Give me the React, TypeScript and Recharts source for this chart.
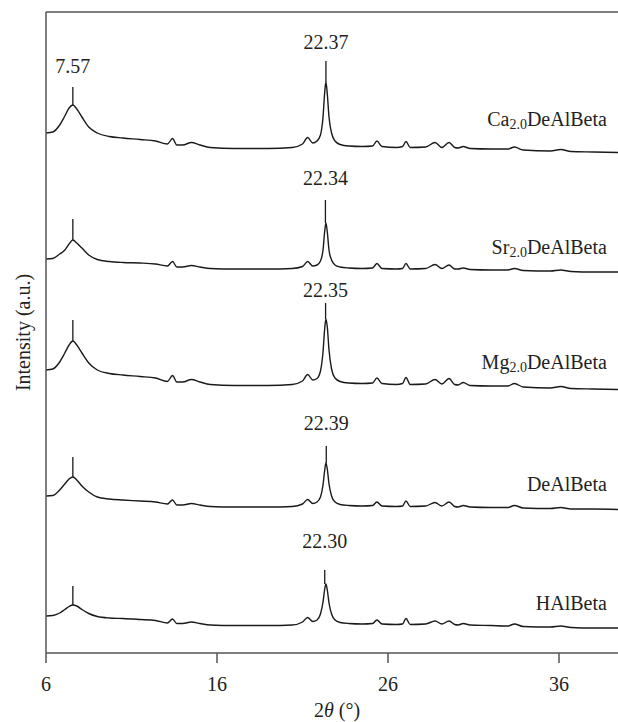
import React from 'react';
import { LineChart, Line, XAxis, YAxis, ReferenceLine, ReferenceDot } from 'recharts';

// 2θ sampling points (degrees)
const twoTheta = [
  6.0, 6.4, 6.8, 7.1, 7.35, 7.57, 7.8, 8.1, 8.5, 9.0,
  9.7, 10.5, 11.5, 12.4, 13.1, 13.4, 13.65, 14.0, 14.5, 15.0,
  15.6, 17.0, 19.0, 20.4, 21.0, 21.3, 21.6, 21.85, 22.05, 22.2,
  22.3, 22.37, 22.45, 22.55, 22.7, 22.9, 23.2, 23.7, 24.5, 25.1,
  25.35, 25.65, 26.5, 26.85, 27.05, 27.3, 28.2, 28.75, 29.15, 29.57,
  29.9, 30.1, 30.4, 30.8, 32.0, 33.0, 33.4, 33.9, 35.5, 36.1,
  36.7, 38.0, 39.5,
];

// stacked intensities (a.u.), top to bottom
const caBeta = [
  520, 521, 528, 537, 545, 548, 544, 536, 526, 520,
  516.5, 515, 513.5, 512, 509, 514.5, 508, 508, 510.5, 508,
  505.5, 504.5, 504.5, 505.5, 509, 515.5, 510, 512, 518, 536,
  561, 571, 559, 536, 520, 512, 508.5, 507, 506.5, 507,
  512, 506.5, 505.5, 506.5, 511.5, 505.5, 506, 510.5, 505.5, 510.5,
  505.5, 505, 506.5, 504.5, 504, 504, 506, 503, 502, 503.5,
  501.5, 501, 500.5,
];
const srBeta = [
  394, 394.5, 399, 403, 409, 413, 410, 405, 398, 393.5,
  391.5, 390.5, 390, 389, 387, 391.5, 386, 386, 387.5, 386,
  384.5, 384, 384, 384.5, 386.5, 391.5, 387, 388, 392, 403,
  422, 430, 421, 403, 393, 388, 386, 385, 384.5, 385,
  389.5, 384.5, 384, 384.5, 389.5, 384, 384.5, 388.5, 384.5, 388,
  384, 384, 385, 383.5, 383, 383, 384.5, 382.5, 382, 383,
  381.5, 381, 381,
];
const mgBeta = [
  283, 284, 291, 300, 308, 312, 308, 300, 290, 283,
  279.5, 278, 276.5, 275, 271.5, 277.5, 271, 271, 273.5, 271,
  268.5, 267.5, 267.5, 268.5, 272, 278.5, 273, 274.5, 282, 301,
  325, 334, 326, 303, 284, 275, 271.5, 270, 269.5, 270,
  275, 269.5, 268.5, 269.5, 275.5, 268.5, 269, 273.5, 269, 274.5,
  268.5, 268, 270.5, 267.5, 267, 267, 269.5, 266, 265, 266.5,
  264.5, 264, 263.5,
];
const deAlBeta = [
  157, 157.5, 163, 169, 174, 176, 173, 167, 161, 156,
  154, 153, 152, 151, 149, 153, 148, 148, 149.5, 148,
  146.5, 146, 146, 146.5, 149, 153.5, 149.5, 151, 156, 168,
  183, 190, 184, 169, 157, 151, 148.5, 147.5, 147, 147.5,
  151, 147, 146.5, 147, 152, 146.5, 147, 150.5, 147, 151,
  146.5, 146, 147.5, 146, 145.5, 145.5, 147.5, 145, 144.5, 145.5,
  144, 144, 143.5,
];
const hAlBeta = [
  37, 37.5, 40, 43.5, 46.5, 48, 47, 43.5, 39.5, 36.5,
  35, 34.5, 33.5, 32.5, 30, 34, 29.5, 29.5, 31, 29.5,
  28, 27.5, 27.5, 28, 31, 35.5, 31.5, 33, 39, 51,
  64, 69, 63, 50, 39, 33, 30.5, 29.5, 29, 29.5,
  33, 29, 28.5, 29, 34.5, 28.5, 29, 32, 29, 32,
  28.5, 28, 29.5, 28, 27.5, 27, 29, 26.5, 26, 27,
  25.5, 25, 25,
];

const seriesKeys = ['ca', 'sr', 'mg', 'deal', 'hal'];
const seriesValues = [caBeta, srBeta, mgBeta, deAlBeta, hAlBeta];

// sample names (prefix, subscript, rest)
const namePrefix = ['Ca', 'Sr', 'Mg', '', ''];
const nameSub = ['2.0', '2.0', '2.0', '', ''];
const nameRest = ['DeAlBeta', 'DeAlBeta', 'DeAlBeta', 'DeAlBeta', 'HAlBeta'];
const nameLevel = [534, 406, 291, 169, 50];

// peak markers
const lowPeak = 7.57;
const lowMarkerTop = [566, 434, 333, 196, 67];
const lowLabelLevel = 587;
const mainPeaks = [22.37, 22.34, 22.35, 22.39, 22.3];
const mainPeakText = ['22.37', '22.34', '22.35', '22.39', '22.30'];
const mainMarkerTop = [592, 453, 350, 207, 83];
const mainLabelLevel = [611, 475, 363, 230, 112];

const xTicks = [6, 16, 26, 36];

const FONT = '"Liberation Serif", "DejaVu Serif", serif';
const TEXT = '#231f20';
const AXIS = '#555555';
const TRACE = '#1a1a1a';
const NAME_X = 38.8;

const data = twoTheta.map((t, i) => {
  const row: any = { t };
  seriesKeys.forEach((k, s) => (row[k] = seriesValues[s][i]));
  return row;
});

const lowIdx = twoTheta.indexOf(lowPeak);
const mainIdx = twoTheta.indexOf(22.37);

const textShape = (value: string, anchor: string = 'middle') => (p: any) => (
  <text
    x={p.cx}
    y={p.cy}
    textAnchor={anchor}
    dominantBaseline="central"
    fontFamily={FONT}
    fontSize={20}
    fill={TEXT}
  >
    {value}
  </text>
);

const nameShape = (i: number) => (p: any) => (
  <text x={p.cx} y={p.cy} textAnchor="end" dominantBaseline="central" fontFamily={FONT} fontSize={20} fill={TEXT}>
    {namePrefix[i]}
    {nameSub[i] && (
      <tspan fontSize={14} dy={5}>
        {nameSub[i]}
      </tspan>
    )}
    <tspan dy={nameSub[i] ? -5 : 0}>{nameRest[i]}</tspan>
  </text>
);

export default function App() {
  return (
    <div style={{ position: 'absolute', left: 0, top: 0, background: '#fff' }}>
      <LineChart width={618} height={722} data={data} margin={{ top: 12, right: 0, bottom: 0, left: 0 }}>
        <XAxis
          dataKey="t"
          type="number"
          domain={[6, 39.45]}
          ticks={xTicks}
          allowDataOverflow
          height={69}
          tickSize={10}
          tickMargin={14}
          axisLine={{ stroke: AXIS, strokeWidth: 1.5 }}
          tickLine={{ stroke: AXIS, strokeWidth: 1.5 }}
          tick={{ fontFamily: FONT, fontSize: 20, fill: TEXT }}
          label={(p: any) => (
            <text
              x={p.viewBox.x + p.viewBox.width / 2 + 5}
              y={p.viewBox.y + 64}
              textAnchor="middle"
              fontFamily={FONT}
              fontSize={20}
              fill={TEXT}
            >
              2<tspan fontStyle="italic">θ</tspan> (°)
            </text>
          )}
        />
        <YAxis
          type="number"
          domain={[0, 641]}
          allowDataOverflow
          width={46}
          tick={false}
          tickLine={false}
          axisLine={{ stroke: AXIS, strokeWidth: 1.5 }}
          label={{
            value: 'Intensity (a.u.)',
            angle: -90,
            position: 'center',
            style: { fontFamily: FONT, fontSize: 20, fill: TEXT },
          }}
        />
        <ReferenceLine y={641} stroke={AXIS} strokeWidth={1.5} />

        {seriesKeys.map((k) => (
          <Line
            key={k}
            dataKey={k}
            type="monotone"
            stroke={TRACE}
            strokeWidth={1.4}
            dot={false}
            isAnimationActive={false}
          />
        ))}

        {seriesValues.map((vals, i) => (
          <ReferenceLine
            key={`low-${i}`}
            segment={[
              { x: lowPeak, y: vals[lowIdx] },
              { x: lowPeak, y: lowMarkerTop[i] },
            ]}
            stroke={TRACE}
            strokeWidth={1.3}
          />
        ))}
        {seriesValues.map((vals, i) => (
          <ReferenceLine
            key={`main-${i}`}
            segment={[
              { x: mainPeaks[i], y: vals[mainIdx] },
              { x: mainPeaks[i], y: mainMarkerTop[i] },
            ]}
            stroke={TRACE}
            strokeWidth={1.3}
          />
        ))}

        <ReferenceDot x={lowPeak} y={lowLabelLevel} r={2} fill="none" stroke="none" shape={textShape('7.57')} />
        {mainPeaks.map((p, i) => (
          <ReferenceDot
            key={`lbl-${i}`}
            x={p}
            y={mainLabelLevel[i]}
            r={2}
            fill="none"
            stroke="none"
            shape={textShape(mainPeakText[i])}
          />
        ))}
        {nameRest.map((_, i) => (
          <ReferenceDot
            key={`name-${i}`}
            x={NAME_X}
            y={nameLevel[i]}
            r={2}
            fill="none"
            stroke="none"
            shape={nameShape(i)}
          />
        ))}
      </LineChart>
    </div>
  );
}
